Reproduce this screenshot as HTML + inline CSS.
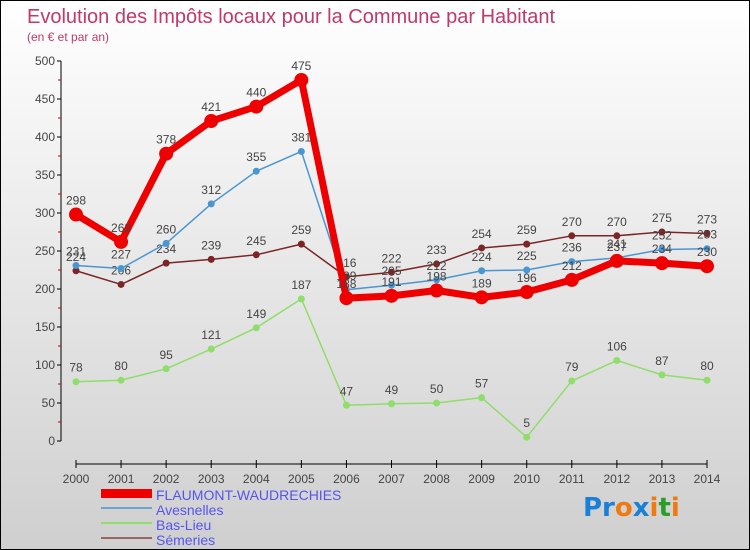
<!DOCTYPE html>
<html><head><meta charset="utf-8"><style>
body{margin:0}
#c{width:748px;height:548px;border:1px solid #000;background:linear-gradient(#fff,#cfcfcf);position:relative;font-family:"Liberation Sans",sans-serif}
</style></head><body>
<div id="c">
<svg id="s" width="748" height="548" style="position:absolute;left:0;top:0">
<text x="26" y="22" font-size="20" fill="#c0396a">Evolution des Impôts locaux pour la Commune par Habitant</text>
<text x="26" y="40" font-size="12" fill="#c0396a">(en € et par an)</text>
<g id="g"></g>
<g>
<rect x="100" y="488" width="51" height="9" fill="#e00"/>
<text x="155" y="499" font-size="14" fill="#5555ee">FLAUMONT-WAUDRECHIES</text>
<line x1="100" x2="151" y1="507" y2="507" stroke="#6fa6d0" stroke-width="2"/>
<text x="155" y="514" font-size="14" fill="#5555ee">Avesnelles</text>
<line x1="100" x2="151" y1="522" y2="522" stroke="#8fdd6a" stroke-width="2"/>
<text x="155" y="529" font-size="14" fill="#5555ee">Bas-Lieu</text>
<line x1="100" x2="151" y1="537" y2="537" stroke="#996666" stroke-width="2"/>
<text x="155" y="544" font-size="14" fill="#5555ee">Sémeries</text>
</g>
<text x="582" y="515" font-size="26" font-family="DejaVu Sans" font-weight="bold"><tspan fill="#1a7fd6">Pr</tspan><tspan fill="#f07a10">o</tspan><tspan fill="#1a7fd6">x</tspan><tspan fill="#f07a10">i</tspan><tspan fill="#2a9d2a">t</tspan><tspan fill="#f07a10">i</tspan></text>
</svg>
</div>
<script>
const years=["2000","2001","2002","2003","2004","2005","2006","2007","2008","2009","2010","2011","2012","2013","2014"];
const yTicks=[0,50,100,150,200,250,300,350,400,450,500];
const flaumont=[298,262,378,421,440,475,188,191,198,189,196,212,237,234,230];
const avesnelles=[231,227,260,312,355,381,199,205,212,224,225,236,241,252,253];
const basLieu=[78,80,95,121,149,187,47,49,50,57,5,79,106,87,80];
const semeries=[224,206,234,239,245,259,216,222,233,254,259,270,270,275,273];
const X=i=>75+i*(631/14), Y=v=>440-v*0.76;
const g=document.getElementById('g'),NS="http://www.w3.org/2000/svg";
function mk(t,a,p){const e=document.createElementNS(NS,t);for(const k in a)e.setAttribute(k,a[k]);(p||g).appendChild(e);return e;}
let ax=mk('line',{x1:60,x2:60,y1:Y(500),y2:Y(0),stroke:'#000'});


yTicks.forEach(v=>{mk('line',{x1:56,x2:60,y1:Y(v),y2:Y(v),stroke:'#000'});
 if(v<500)mk('line',{x1:57,x2:60,y1:Y(v+25),y2:Y(v+25),stroke:'#c00'});
 const t=mk('text',{x:54,y:Y(v)+4,'font-size':12,fill:'#444','text-anchor':'end'});t.textContent=v;
 
 });
let xa=mk('line',{x1:75,x2:X(14),y1:463,y2:463,stroke:'#000'});


years.forEach((y,i)=>{mk('line',{x1:X(i),x2:X(i),y1:459,y2:467,stroke:'#000'});
 const t=mk('text',{x:X(i),y:482,'font-size':12,fill:'#444','text-anchor':'middle'});t.textContent=y;
 
 });
function series(d,col,w,r,name){
 const p=mk('polyline',{points:d.map((v,i)=>X(i)+','+Y(v)).join(' '),fill:'none',stroke:col,'stroke-width':w,'stroke-linejoin':'round'});
 
 
 d.forEach((v,i)=>{const c=mk('circle',{cx:X(i),cy:Y(v),r:r,fill:col});
  
  
  const t=mk('text',{x:X(i),y:Y(v)-10,'font-size':12,fill:'#444','text-anchor':'middle'});t.textContent=v;
  
  });
}
series(basLieu,'#8fdd6a',1.5,3.5,'bas-lieu');
series(semeries,'#7a2626',1.5,3.5,'semeries');
series(avesnelles,'#4a96d0',1.5,3.5,'avesnelles');
series(flaumont,'#ee0000',7,7,'flaumont');
</script>
</body></html>
